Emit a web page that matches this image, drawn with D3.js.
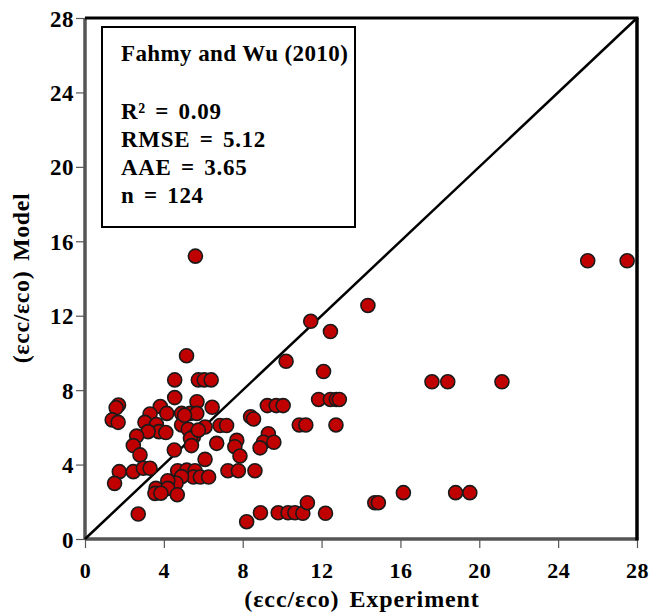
<!DOCTYPE html>
<meta charset="utf-8">
<head>
    <script src="https://d3js.org/d3.v7.min.js"></script>
    <style>
        body { margin: 0; background: white; }
        text { font-family: "Liberation Serif", serif; font-weight: bold; fill: black; }
    </style>
</head>
<body>
<div id="my_dataviz"></div>
<script>
    // experiment values (x) and model values (y)
    const experiment = [
        5.6, 25.5, 27.5, 14.35, 11.45, 12.45, 5.15, 10.2, 12.1, 17.6,
        18.4, 21.15, 4.55, 5.75, 6.05, 6.4, 11.85, 12.45, 12.75, 12.9,
        9.25, 9.7, 10.05, 4.55, 1.7, 1.58, 5.68, 6.45, 3.82, 4.15,
        3.3, 4.9, 5.33, 5.67, 1.38, 1.68, 3.04, 3.62, 8.4, 8.55,
        4.9, 6.09, 6.85, 7.18, 10.87, 11.2, 12.73, 5.24, 3.75, 4.1,
        3.2, 2.62, 5.5, 5.35, 5.4, 2.45, 2.79, 4.53, 6.68, 7.7,
        7.6, 7.86, 9.3, 9.05, 9.58, 8.88, 6.09, 1.74, 1.5, 2.45,
        2.96, 3.3, 4.7, 5.16, 5.58, 5.5, 5.85, 6.27, 7.25, 7.78,
        8.62, 4.9, 4.3, 4.62, 4.2, 3.6, 4.2, 3.55, 3.85, 4.68,
        2.7, 8.2, 8.9, 9.8, 10.3, 10.65, 11.05, 11.28, 12.2, 14.7,
        14.88, 16.15, 18.8, 19.52, 5.05, 5.75
    ];
    const model = [
        15.2, 14.95, 14.95, 12.55, 11.7, 11.15, 9.85, 9.55, 9.0, 8.45,
        8.45, 8.45, 8.55, 8.55, 8.55, 8.55, 7.5, 7.5, 7.5, 7.5,
        7.17, 7.17, 7.17, 7.6, 7.2, 7.05, 7.38, 7.08, 7.12, 6.75,
        6.72, 6.75, 6.75, 6.75, 6.4, 6.27, 6.27, 6.15, 6.57, 6.45,
        6.13, 6.02, 6.1, 6.1, 6.13, 6.13, 6.13, 5.9, 5.77, 5.72,
        5.77, 5.53, 5.5, 5.4, 5.02, 5.02, 4.52, 4.78, 5.14, 5.3,
        4.96, 4.46, 5.66, 5.2, 5.2, 4.9, 4.28, 3.62, 2.99, 3.62,
        3.8, 3.8, 3.67, 3.7, 3.67, 3.33, 3.33, 3.33, 3.67, 3.67,
        3.67, 3.35, 3.05, 3.0, 3.13, 2.72, 2.72, 2.45, 2.46, 2.38,
        1.34, 0.93, 1.41, 1.41, 1.41, 1.41, 1.38, 1.95, 1.38, 1.95,
        1.95, 2.49, 2.49, 2.49, 6.65, 5.85
    ];
    const ticks = [0, 4, 8, 12, 16, 20, 24, 28];
    const statLines = ["R² = 0.09", "RMSE = 5.12", "AAE = 3.65", "n = 124"];

    const data = experiment.map((e, i) => ({ exp: e, mod: model[i] }));

    const svg = d3.select("#my_dataviz").append("svg")
        .attr("width", 654)
        .attr("height", 614)
        .style("background-color", "white");

    const x = d3.scaleLinear().domain([0, 28]).range([85, 637]);
    const y = d3.scaleLinear().domain([0, 28]).range([539, 18]);

    // left + bottom axes (grey), with outward ticks
    svg.append("g")
        .attr("class", "left axis")
        .attr("transform", "translate(85,0)")
        .call(d3.axisLeft(y).tickValues(ticks).tickSize(9).tickPadding(2).tickSizeOuter(0))
        .call(g => g.select(".domain").remove())
        .call(g => g.selectAll("line").attr("stroke", "#555").attr("stroke-width", 1.2))
        .call(g => g.selectAll("text").style("font-size", "23px").style("letter-spacing", "0.5px").attr("dy", "0.35em"));

    svg.append("g")
        .attr("class", "bottom axis")
        .attr("transform", "translate(0,539)")
        .call(d3.axisBottom(x).tickValues(ticks).tickSize(9).tickPadding(14).tickSizeOuter(0))
        .call(g => g.select(".domain").remove())
        .call(g => g.selectAll("line").attr("stroke", "#555").attr("stroke-width", 1.2))
        .call(g => g.selectAll("text").style("font-size", "22px").style("letter-spacing", "0.5px"));

    // frame
    svg.append("line").attr("x1", x(0)).attr("x2", x(0)).attr("y1", y(0) + 1).attr("y2", y(28))
        .attr("stroke", "#555").attr("stroke-width", 3.5);
    svg.append("line").attr("x1", x(0)).attr("x2", x(28)).attr("y1", y(0)).attr("y2", y(0))
        .attr("stroke", "#555").attr("stroke-width", 3.5);
    svg.append("line").attr("x1", x(0)).attr("x2", x(28) + 1.5).attr("y1", y(28)).attr("y2", y(28))
        .attr("stroke", "black").attr("stroke-width", 3);
    svg.append("line").attr("x1", x(28)).attr("x2", x(28)).attr("y1", y(28)).attr("y2", y(0) + 1.5)
        .attr("stroke", "black").attr("stroke-width", 3.5);

    // 1:1 line
    svg.append("line")
        .attr("x1", x(0)).attr("y1", y(0))
        .attr("x2", x(28)).attr("y2", y(28))
        .attr("stroke", "black")
        .attr("stroke-width", 2.5);

    // points
    svg.selectAll("circle")
        .data(data)
        .enter()
        .append("circle")
        .attr("cx", d => x(d.exp))
        .attr("cy", d => y(d.mod))
        .attr("r", 7)
        .attr("fill", "#c00000")
        .attr("stroke", "#1a1a1a")
        .attr("stroke-width", 1.6);

    // stats box
    svg.append("rect")
        .attr("x", 102).attr("y", 27)
        .attr("width", 253).attr("height", 200)
        .attr("fill", "white")
        .attr("stroke", "black")
        .attr("stroke-width", 2);

    svg.append("text")
        .attr("x", 121).attr("y", 61)
        .style("font-size", "23px")
        .style("letter-spacing", "0.4px")
        .text("Fahmy and Wu (2010)");

    svg.selectAll(".stat")
        .data(statLines)
        .enter()
        .append("text")
        .attr("class", "stat")
        .attr("x", 121)
        .attr("y", (d, i) => 119 + i * 28)
        .style("font-size", "23px")
        .style("letter-spacing", "0.7px")
        .style("word-spacing", "3px")
        .text(d => d);

    // axis titles
    svg.append("text")
        .attr("x", 362).attr("y", 607)
        .attr("text-anchor", "middle")
        .style("font-size", "24px")
        .style("letter-spacing", "0.9px")
        .style("word-spacing", "3px")
        .text("(εcc/εco) Experiment");

    svg.append("text")
        .attr("transform", "translate(29,278) rotate(-90)")
        .attr("text-anchor", "middle")
        .style("font-size", "24px")
        .style("letter-spacing", "0.6px")
        .style("word-spacing", "3px")
        .text("(εcc/εco) Model");
</script>
</body>
